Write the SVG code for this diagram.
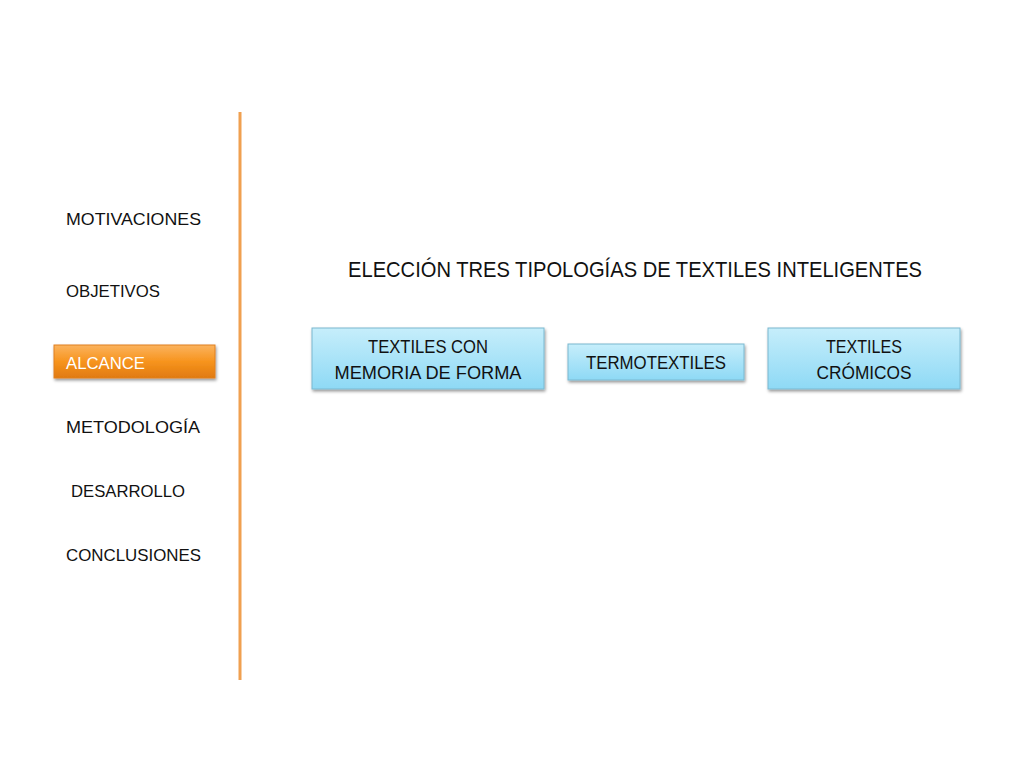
<svg xmlns="http://www.w3.org/2000/svg" width="1024" height="768" viewBox="0 0 1024 768">
<defs>
<linearGradient id="blue" x1="0" y1="0" x2="0" y2="1"><stop offset="0" stop-color="#c6eefb"/><stop offset="1" stop-color="#8ed9f5"/></linearGradient>
<linearGradient id="org" x1="0" y1="0" x2="0" y2="1"><stop offset="0" stop-color="#fbb35e"/><stop offset="0.5" stop-color="#f7941d"/><stop offset="1" stop-color="#e07a10"/></linearGradient>
<filter id="sh" x="-10%" y="-10%" width="130%" height="140%"><feDropShadow dx="1" dy="2" stdDeviation="1.5" flood-color="#000" flood-opacity="0.4"/></filter>
</defs>
<style>
text{font-family:"Liberation Sans",sans-serif;fill:#111;}
.m{font-size:17px}
.b{fill:url(#blue);stroke:#7ab8d0;stroke-width:1;filter:url(#sh)}
.t{font-size:18px;text-anchor:middle}
</style>
<rect width="1024" height="768" fill="#fff"/>
<line x1="240" y1="112" x2="240" y2="680" stroke="#f0a050" stroke-width="3"/>
<g id="menu">
<text class="m" x="66" y="225" textLength="135" lengthAdjust="spacingAndGlyphs">MOTIVACIONES</text>
<text class="m" x="66" y="297" textLength="94" lengthAdjust="spacingAndGlyphs">OBJETIVOS</text>
<rect x="54" y="345" width="161" height="33" fill="url(#org)" stroke="#e08020" filter="url(#sh)"/>
<text class="m" x="66" y="369" style="fill:#fff" textLength="79" lengthAdjust="spacingAndGlyphs">ALCANCE</text>
<text class="m" x="66" y="433" textLength="134" lengthAdjust="spacingAndGlyphs">METODOLOGÍA</text>
<text class="m" x="71" y="497" textLength="114" lengthAdjust="spacingAndGlyphs">DESARROLLO</text>
<text class="m" x="66" y="561" textLength="135" lengthAdjust="spacingAndGlyphs">CONCLUSIONES</text>
</g>
<text x="348" y="277" font-size="22" textLength="574" lengthAdjust="spacingAndGlyphs">ELECCIÓN TRES TIPOLOGÍAS DE TEXTILES INTELIGENTES</text>
<g id="n1"><rect class="b" x="312" y="328" width="232" height="61"/><text class="t" x="428" y="353" textLength="120" lengthAdjust="spacingAndGlyphs">TEXTILES CON</text><text class="t" x="428" y="379" textLength="187" lengthAdjust="spacingAndGlyphs">MEMORIA DE FORMA</text></g>
<g id="n2"><rect class="b" x="568" y="344" width="176" height="36"/><text class="t" x="656" y="369" textLength="140" lengthAdjust="spacingAndGlyphs">TERMOTEXTILES</text></g>
<g id="n3"><rect class="b" x="768" y="328" width="192" height="61"/><text class="t" x="864" y="353" textLength="76" lengthAdjust="spacingAndGlyphs">TEXTILES</text><text class="t" x="864" y="379" textLength="95" lengthAdjust="spacingAndGlyphs">CRÓMICOS</text></g>
<g id="connectors"/>
</svg>
